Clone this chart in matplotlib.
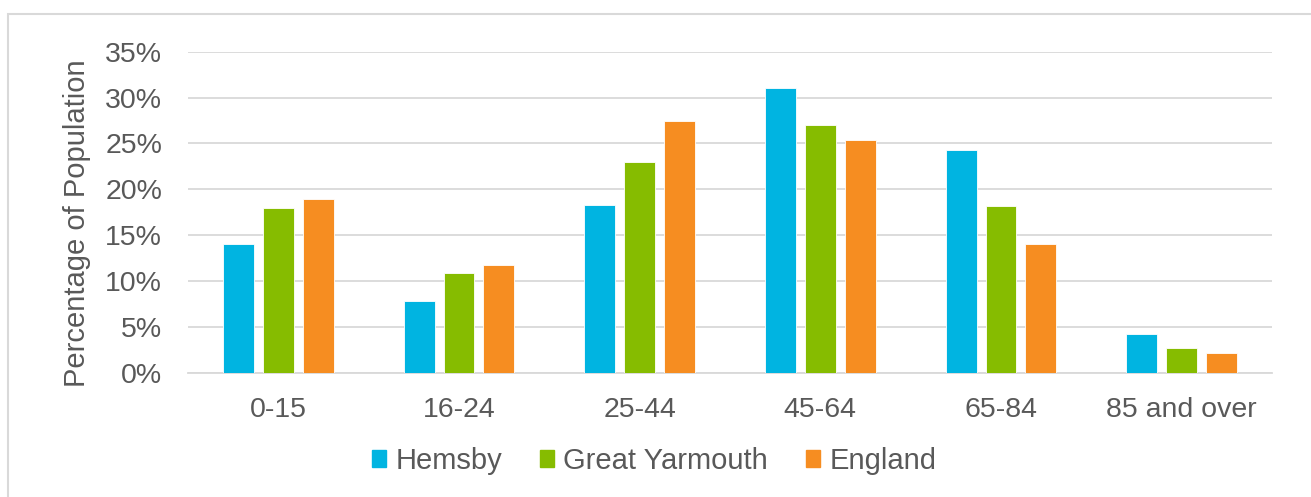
import numpy as np
import matplotlib
matplotlib.use("Agg")
import matplotlib.pyplot as plt
import matplotlib.patches as mpatches
import matplotlib.ticker as mticker

# ── Data (percent of population) ───────────────────────────────────────────
AGE_BANDS = ["0-15", "16-24", "25-44", "45-64", "65-84", "85 and over"]
HEMSBY         = [14.0, 7.8, 18.3, 31.1, 24.3, 4.3]
GREAT_YARMOUTH = [18.0, 10.9, 23.0, 27.0, 18.2, 2.7]
ENGLAND        = [18.9, 11.8, 27.5, 25.4, 14.1, 2.2]
SERIES_NAMES = ["Hemsby", "Great Yarmouth", "England"]

# ── Palette ────────────────────────────────────────────────────────────────
CYAN   = "#00B4E1"
GREEN  = "#86BC00"
ORANGE = "#F68D21"
TEXT   = "#595959"
GRID   = "#D9D9D9"

plt.rcParams["font.family"] = ["Liberation Sans", "DejaVu Sans"]
FS = 20.5

W, H = 1311, 497
fig = plt.figure(figsize=(W / 100, H / 100), dpi=100, facecolor="white")
ax = fig.add_axes([188 / W, 1 - 373 / H, (1272 - 188) / W, (373 - 51.7) / H])

x = np.arange(len(AGE_BANDS))
bw = 0.171
step = 0.221
series = [HEMSBY, GREAT_YARMOUTH, ENGLAND]
colors = [CYAN, GREEN, ORANGE]
for i, (vals, col) in enumerate(zip(series, colors)):
    ax.bar(x + (i - 1) * step, np.array(vals) / 100, width=bw, color=col,
           edgecolor="white", linewidth=0.6, zorder=3)

ax.set_xlim(-0.5, len(AGE_BANDS) - 0.5)
ax.set_ylim(0, 0.35)
ax.yaxis.set_major_locator(mticker.MultipleLocator(0.05))
ax.yaxis.set_major_formatter(mticker.PercentFormatter(xmax=1, decimals=0))
ax.set_xticks(x)
ax.set_xticklabels(AGE_BANDS)
ax.tick_params(axis="both", length=0, labelsize=FS, labelcolor=TEXT)
ax.tick_params(axis="y", pad=18.7)
ax.tick_params(axis="x", pad=17.5)
for s in ["top", "right", "left"]:
    ax.spines[s].set_visible(False)
ax.spines["bottom"].set_color(GRID)
ax.spines["bottom"].set_linewidth(1.3)
ax.grid(axis="y", color=GRID, linewidth=1.3, zorder=0)
ax.set_axisbelow(True)

fig.text(77 / W, 1 - 223 / H, "Percentage of Population", rotation=90,
         ha="center", va="center", fontsize=21, color=TEXT)

handles = [mpatches.Patch(color=c, label=n) for c, n in zip(colors, SERIES_NAMES)]
leg = fig.legend(handles=handles, loc="center", ncol=3,
                 bbox_to_anchor=(654 / W, 1 - 461 / H), frameon=False,
                 fontsize=21, handlelength=0.5, handleheight=0.5,
                 handletextpad=0.3, columnspacing=1.3, borderpad=0)
for t in leg.get_texts():
    t.set_color(TEXT)

# light outer frame, cut off at right and bottom like the source
frame = mpatches.Rectangle((8 / W, -0.05), 1.1, 1.05 - 14 / H,
                           transform=fig.transFigure, fill=False,
                           edgecolor=GRID, linewidth=1.5)
fig.patches.append(frame)

fig.savefig("out.png", dpi=100, facecolor="white")
